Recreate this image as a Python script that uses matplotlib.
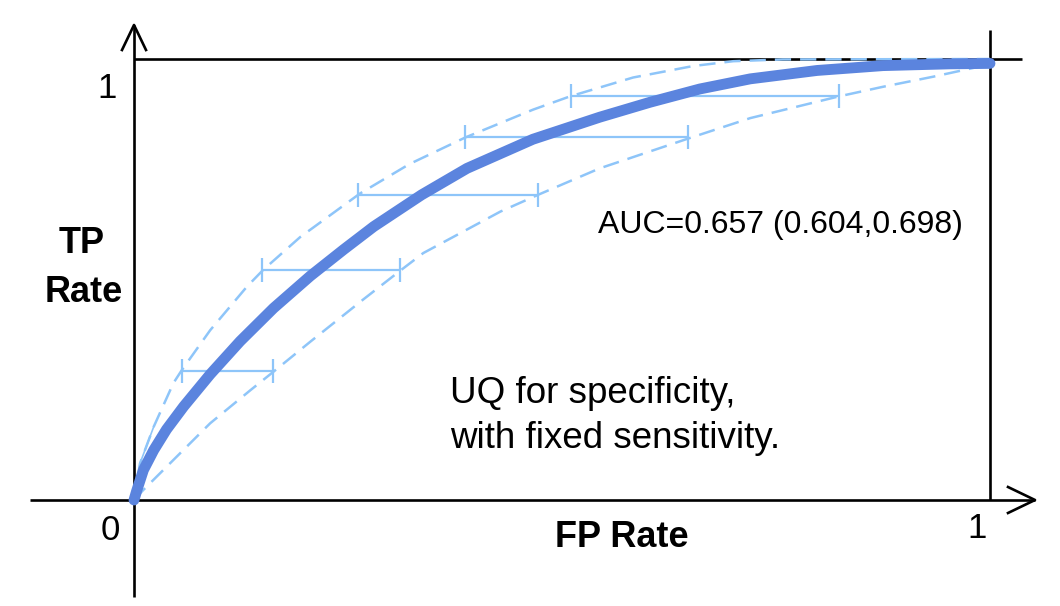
import matplotlib
matplotlib.use('Agg')
import matplotlib.pyplot as plt
import numpy as np

# ROC curve
fpr = [0.0, 0.003, 0.011, 0.023, 0.038, 0.058, 0.089, 0.124, 0.163, 0.206, 0.245,
       0.280, 0.336, 0.389, 0.466, 0.544, 0.603, 0.661, 0.720, 0.798, 0.875, 0.953, 1.0]
tpr = [0.0, 0.02, 0.068, 0.113, 0.160, 0.212, 0.285, 0.360, 0.435, 0.508, 0.568,
       0.620, 0.692, 0.752, 0.818, 0.868, 0.902, 0.932, 0.955, 0.974, 0.985, 0.989, 0.990]

# upper / lower uncertainty bands
upper_x = [0.0, 0.007, 0.023, 0.046, 0.056, 0.089, 0.132, 0.151, 0.194, 0.264, 0.322,
           0.387, 0.466, 0.509, 0.583, 0.653, 0.700, 0.758, 1.0]
upper_y = [0.0, 0.083, 0.166, 0.265, 0.295, 0.385, 0.484, 0.522, 0.596, 0.695, 0.762,
           0.822, 0.885, 0.915, 0.958, 0.984, 0.995, 0.999, 1.0]
lower_x = [0.0, 0.011, 0.042, 0.089, 0.136, 0.163, 0.206, 0.268, 0.311, 0.338, 0.428,
           0.472, 0.544, 0.648, 0.720, 0.823, 0.875, 0.934, 1.0]
lower_y = [0.0, 0.023, 0.083, 0.174, 0.249, 0.291, 0.359, 0.455, 0.520, 0.560, 0.654,
           0.692, 0.752, 0.820, 0.866, 0.915, 0.937, 0.960, 0.988]

# horizontal UQ bars (specificity range at fixed sensitivity)
bar_y = [0.293, 0.522, 0.692, 0.823, 0.916]
bar_lo = [0.056, 0.150, 0.262, 0.387, 0.511]
bar_hi = [0.162, 0.311, 0.472, 0.647, 0.824]

auc_label = 'AUC=0.657 (0.604,0.698)'
note_lines = ['UQ for specificity,', 'with fixed sensitivity.']

W, H = 1060, 606
X0, X1 = 134, 990   # pixel of x=0, x=1
Y0, Y1 = 500, 59    # pixel (from top) of y=0, y=1


def px(x):
    return (x - X0) / (X1 - X0)


def py(y):
    return (Y0 - y) / (Y0 - Y1)


main_col = '#5b84de'
light_col = '#8ec5f9'

fig = plt.figure(figsize=(W / 100, H / 100), dpi=100)
ax = fig.add_axes([0, 0, 1, 1])
ax.set_xlim(px(0), px(W))
ax.set_ylim(py(H), py(0))
ax.axis('off')

# frame / axes
k = dict(color='black', lw=1.9, solid_capstyle='butt')
ax.plot([px(30), px(1035)], [0, 0], **k)
ax.plot([0, 0], [py(597), py(25)], **k)
ax.plot([0, px(1022)], [1, 1], **k)
ax.plot([1, 1], [0, py(30)], **k)
# arrow heads
ax.plot([px(1008), px(1035), px(1008)], [py(487), 0, py(513)], color='black', lw=1.9)
ax.plot([px(122), 0, px(146)], [py(50), py(25), py(50)], color='black', lw=1.9)

# curves
ax.plot(upper_x[:3], upper_y[:3], color=light_col, lw=1.2)
ax.plot(upper_x, upper_y, color=light_col, lw=1.8, dashes=(6.5, 3.6))
ax.plot(lower_x, lower_y, color=light_col, lw=1.8, dashes=(6.5, 3.6))
mid = [(a + b) / 2 for a, b in zip(bar_lo, bar_hi)]
half = [(b - a) / 2 for a, b in zip(bar_lo, bar_hi)]
ax.errorbar(mid, bar_y, xerr=half, fmt='none', ecolor=light_col, elinewidth=1.6,
            capsize=8.6, capthick=1.6)
ax.plot(fpr, tpr, color=main_col, lw=7.8, solid_capstyle='round', solid_joinstyle='round')

# text
fn = 'Liberation Sans'
ax.text(px(598), py(233), auc_label, fontsize=23, family=fn, va='baseline', ha='left')
ax.text(px(450), py(403), note_lines[0], fontsize=26.5, family=fn, va='baseline')
ax.text(px(450), py(448), note_lines[1], fontsize=26.5, family=fn, va='baseline')
ax.text(px(622), py(547), 'FP Rate', fontsize=26, family=fn, weight='bold',
        ha='center', va='baseline')
ax.text(px(82), py(253), 'TP', fontsize=26, family=fn, weight='bold', ha='center', va='baseline')
ax.text(px(84), py(302), 'Rate', fontsize=26, family=fn, weight='bold', ha='center', va='baseline')
ax.text(px(110), py(530), '0', fontsize=25, family=fn, ha='center', va='center')
ax.text(px(977), py(529), '1', fontsize=25, family=fn, ha='center', va='center')
ax.text(px(107), py(89), '1', fontsize=25, family=fn, ha='center', va='center')

fig.savefig('out.png', dpi=100)
